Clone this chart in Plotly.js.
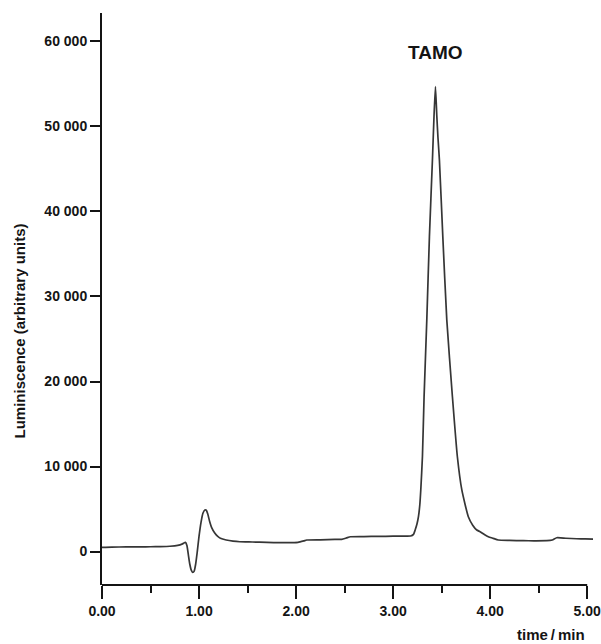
<!DOCTYPE html>
<html>
<head>
<meta charset="utf-8">
<script src="https://cdn.plot.ly/plotly-3.0.1.min.js"></script>
<style>html,body{margin:0;padding:0;background:#fff;}#chart{width:601px;height:644px;}</style>
</head>
<body>
<div id="chart"></div>
<script>
// Chromatogram: time (min) and luminiscence (arbitrary units)
var timeMin = [0.00, 0.10, 0.25, 0.40, 0.50, 0.60, 0.70, 0.78, 0.83, 0.86, 0.875, 0.89, 0.905, 0.92, 0.935, 0.95, 0.965, 0.98, 1.00, 1.02, 1.04, 1.06, 1.075, 1.09, 1.11, 1.13, 1.16, 1.19, 1.22, 1.28, 1.35, 1.42, 1.55, 1.70, 1.84, 1.95, 2.02, 2.08, 2.11, 2.25, 2.40, 2.47, 2.52, 2.56, 2.70, 2.85, 3.00, 3.10, 3.18, 3.21, 3.227, 3.245, 3.261, 3.275, 3.285, 3.302, 3.319, 3.347, 3.374, 3.405, 3.42, 3.436, 3.45, 3.462, 3.477, 3.512, 3.553, 3.611, 3.662, 3.708, 3.775, 3.82, 3.862, 3.896, 3.94, 3.981, 4.03, 4.084, 4.20, 4.342, 4.45, 4.583, 4.64, 4.686, 4.78, 4.892, 4.98, 5.06];
var luminiscence = [480, 520, 540, 540, 560, 580, 620, 720, 900, 1080, 700, -400, -1500, -2200, -2450, -2300, -1500, -200, 1800, 3400, 4500, 4880, 4850, 4400, 3500, 2800, 2200, 1800, 1550, 1350, 1220, 1150, 1120, 1070, 1040, 1050, 1080, 1250, 1350, 1380, 1420, 1430, 1600, 1740, 1760, 1780, 1800, 1810, 1820, 2020, 2530, 3200, 4090, 5500, 7240, 11150, 18210, 27250, 37040, 46060, 50800, 54680, 51300, 48700, 46060, 37040, 27250, 18210, 11150, 7240, 4090, 3100, 2530, 2330, 2000, 1740, 1550, 1350, 1300, 1270, 1260, 1270, 1350, 1620, 1560, 1500, 1480, 1460];

var yTickVals = [0, 10000, 20000, 30000, 40000, 50000, 60000];
var yTickText = ["0", "10 000", "20 000", "30 000", "40 000", "50 000", "60 000"];
var xTickVals = [0, 1, 2, 3, 4, 5];
var xTickText = ["0.00", "1.00", "2.00", "3.00", "4.00", "5.00"];
var xMinorTickVals = [0.5, 1.5, 2.5, 3.5, 4.5];
var peakLabel = "TAMO";
var peakTime = 3.436;
var peakValue = 54680;

var FONT = "Liberation Sans, Arial, sans-serif";
var INK = "#141414";

var trace = {
  x: timeMin,
  y: luminiscence,
  type: "scatter",
  mode: "lines",
  line: {color: "#363636", width: 1.7, shape: "spline", smoothing: 0.5},
  hoverinfo: "skip"
};

var layout = {
  width: 601,
  height: 644,
  margin: {l: 102, r: 7, t: 13, b: 59, pad: 0},
  paper_bgcolor: "#ffffff",
  plot_bgcolor: "#ffffff",
  showlegend: false,
  xaxis: {
    range: [0, 5.07],
    tickmode: "array",
    tickvals: xTickVals,
    ticktext: xTickText,
    ticks: "outside",
    ticklen: 13,
    tickwidth: 2,
    tickcolor: INK,
    ticklabeloverflow: "allow",
    showline: false,
    showgrid: false,
    zeroline: false,
    tickfont: {family: FONT, size: 14, color: INK, weight: "bold"},
    minor: {tickvals: xMinorTickVals, ticks: "outside", ticklen: 7, tickwidth: 2, tickcolor: INK, showgrid: false},
    fixedrange: true
  },
  yaxis: {
    range: [-3940, 63350],
    tickmode: "array",
    tickvals: yTickVals,
    ticktext: yTickText,
    ticks: "outside",
    ticklen: 10,
    tickwidth: 2,
    tickcolor: INK,
    showline: true,
    linewidth: 2,
    linecolor: INK,
    showgrid: false,
    zeroline: false,
    tickfont: {family: FONT, size: 14, color: INK, weight: "bold"},
    fixedrange: true
  },
  shapes: [
    {type: "line", xref: "x", yref: "paper", x0: 0, x1: 5, y0: 0, y1: 0, line: {color: INK, width: 2}}
  ],
  annotations: [
    {text: peakLabel, x: peakTime, y: peakValue, xref: "x", yref: "y", yshift: 22, yanchor: "bottom", showarrow: false,
     font: {family: FONT, size: 19, color: INK, weight: "bold"}},
    {text: "Luminiscence (arbitrary units)", xref: "paper", yref: "paper", x: -0.1677, y: 0.444, textangle: -90,
     showarrow: false, xanchor: "center", yanchor: "middle", font: {family: FONT, size: 15, color: INK, weight: "bold"}},
    {text: "time\u2009/\u2009min", xref: "paper", yref: "paper", x: 0.9116, y: -0.0858, showarrow: false,
     xanchor: "center", yanchor: "middle", font: {family: FONT, size: 15, color: INK, weight: "bold"}}
  ]
};

Plotly.newPlot("chart", [trace], layout, {displayModeBar: false, staticPlot: true});
</script>
</body>
</html>
